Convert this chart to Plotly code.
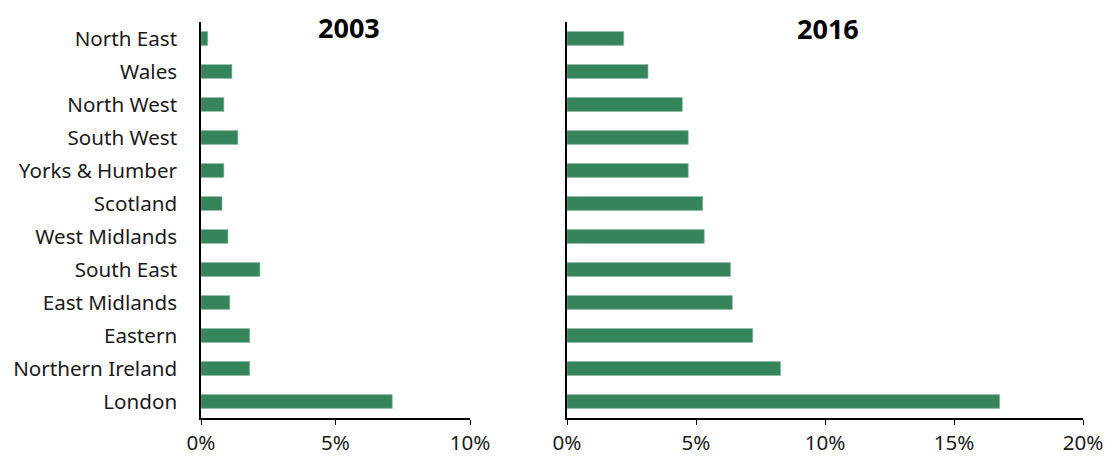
import plotly.graph_objects as go
from plotly.subplots import make_subplots

regions = ["North East", "Wales", "North West", "South West", "Yorks & Humber",
           "Scotland", "West Midlands", "South East", "East Midlands", "Eastern",
           "Northern Ireland", "London"]
values_2003 = [0.25, 1.15, 0.85, 1.37, 0.85, 0.78, 1.0, 2.19, 1.07, 1.81, 1.81, 7.11]
values_2016 = [2.2, 3.14, 4.47, 4.70, 4.70, 5.26, 5.32, 6.34, 6.41, 7.20, 8.28, 16.77]
ticks_2003 = [0, 5, 10]
ticks_2016 = [0, 5, 10, 15, 20]

bar_color = "rgb(54,132,92)"
font_family = "Noto Sans, Open Sans, sans-serif"
label_size = 20.6
tick_size = 20.6

fig = make_subplots(rows=1, cols=2, shared_yaxes=False)

fig.add_trace(go.Bar(y=regions, x=values_2003, orientation="h",
                     marker=dict(color=bar_color, line=dict(color="rgb(140,190,160)", width=0.6)),
                     showlegend=False), row=1, col=1)
fig.add_trace(go.Bar(y=regions, x=values_2016, orientation="h",
                     marker=dict(color=bar_color, line=dict(color="rgb(140,190,160)", width=0.6)),
                     showlegend=False), row=1, col=2)

# page has an 8px body margin; figure coordinates are offset accordingly
W, H = 1107, 449
ml, mr, mt, mb = 193, 32, 14, 39
pw = W - ml - mr
ph = H - mt - mb

def xaxis_def(domain, rng, vals):
    return dict(domain=domain, range=rng, tickmode="array", tickvals=vals,
                ticktext=[f"{v}%" for v in vals],
                showgrid=False, zeroline=False, showline=True, linecolor="black",
                linewidth=1.5, ticks="outside", ticklen=5, tickcolor="black",
                tickwidth=1.2, tickfont=dict(size=tick_size, color="#1a1a1a"),
                ticklabelstandoff=1, fixedrange=True)

fig.update_layout(
    width=W, height=H,
    margin=dict(l=ml, r=mr, t=mt, b=mb, autoexpand=False),
    paper_bgcolor="white", plot_bgcolor="white",
    bargap=0.58,
    font=dict(family=font_family, size=label_size, color="#1a1a1a"),
    xaxis=xaxis_def([0, (470 - 201) / pw], [0, 10], ticks_2003),
    xaxis2=xaxis_def([(567 - 201) / pw, 1], [0, 20], ticks_2016),
    yaxis=dict(showgrid=False, zeroline=False, showline=True, linecolor="black",
               linewidth=1.5, autorange="reversed", ticks="",
               tickfont=dict(size=label_size, color="#1a1a1a"), ticklabelstandoff=18),
    yaxis2=dict(showgrid=False, zeroline=False, showline=True, linecolor="black",
                linewidth=1.5, autorange="reversed", ticks="", showticklabels=False),
)

fig.add_annotation(text="<b>2003</b>", x=5.5, xref="x", y=1 - (19 - mt) / ph,
                   yref="paper", showarrow=False, font=dict(size=27, color="black"),
                   yanchor="middle")
fig.add_annotation(text="<b>2016</b>", x=10.1, xref="x2", y=1 - (21 - mt) / ph,
                   yref="paper", showarrow=False, font=dict(size=27, color="black"),
                   yanchor="middle")

fig.write_html("out.html")
